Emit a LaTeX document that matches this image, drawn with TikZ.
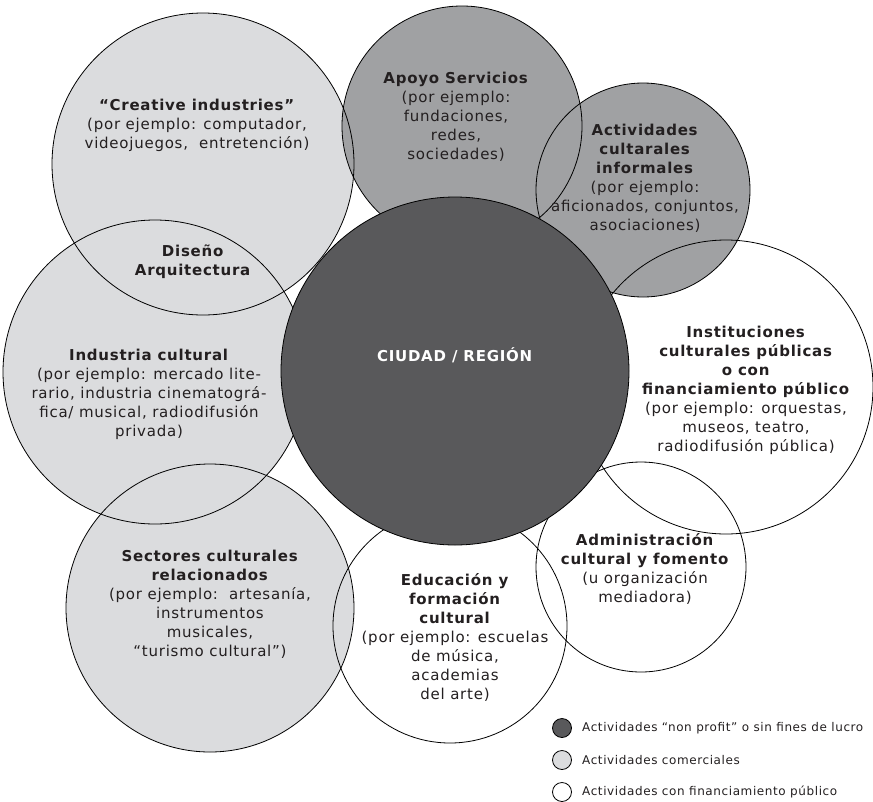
\documentclass[tikz,border=0pt]{standalone}
\usepackage{fontspec}
\setmainfont{DejaVu Sans}[LetterSpace=5]
\begin{document}
\definecolor{lightfill}{HTML}{DBDCDE}
\definecolor{midfill}{HTML}{A0A1A3}
\definecolor{darkfill}{HTML}{59595B}
\definecolor{ink}{HTML}{231F20}
\tikzset{
  rim/.style={draw=black, line width=0.8pt},
  label/.style={align=center, text=ink, font=\fontsize{15}{19}\selectfont, inner sep=0pt},
  legendtext/.style={anchor=west, text=ink, font=\fontsize{12}{14}\selectfont, inner sep=0pt},
}
\begin{tikzpicture}[x=1pt,y=-1pt]
\useasboundingbox (0,0) rectangle (873,801);

% fills of the sector circles
\fill[lightfill] (203,164) circle[radius=151];   % creative industries
\fill[midfill]   (462,126) circle[radius=120];   % apoyo servicios
\fill[midfill]   (643,190) circle[radius=107];   % actividades informales
\fill[lightfill] (155,372) circle[radius=152];   % industria cultural
\fill[lightfill] (210,608) circle[radius=144];   % sectores relacionados

% outlines, all drawn above the fills
\draw[rim] (203,164) circle[radius=151];
\draw[rim] (462,126) circle[radius=120];
\draw[rim] (643,190) circle[radius=107];
\draw[rim] (155,372) circle[radius=152];
\draw[rim] (210,608) circle[radius=144];
\draw[rim] (726,387) circle[radius=147];   % instituciones
\draw[rim] (450,626) circle[radius=117];   % educacion
\draw[rim] (641,567) circle[radius=105];   % administracion

% the city / region in the middle
\filldraw[fill=darkfill, draw=black, line width=0.8pt] (455,371) circle[radius=174];

% texts
\node[label] (creative) at (197,125) {\textbf{“Creative industries”}\\(por ejemplo: computador,\\videojuegos,\ \ entretención)};
\node[label] (diseno) at (193,262) {\textbf{Diseño}\\\textbf{Arquitectura}};
\node[label] (apoyo) at (456,117) {\textbf{Apoyo Servicios}\\(por ejemplo:\\fundaciones,\\redes,\\sociedades)};
\node[label] (informales) at (645,178) {\textbf{Actividades}\\\textbf{cultarales}\\\textbf{informales}\\(por ejemplo:\\aficionados, conjuntos,\\asociaciones)};
\node[label] (industria) at (149,394) {\textbf{Industria cultural}\\(por ejemplo: mercado lite-\\rario, industria cinematográ-\\fica/ musical, radiodifusión\\privada)};
\node[label, text=white] (ciudad) at (455,355) {\textbf{CIUDAD / REGIÓN}};
\node[label] (instituciones) at (746,390) {\textbf{Instituciones}\\\textbf{culturales públicas}\\\textbf{o con}\\\textbf{financiamiento público}\\(por ejemplo: orquestas,\\museos, teatro,\\radiodifusión pública)};
\node[label] (sectores) at (210,604) {\textbf{Sectores culturales}\\\textbf{relacionados}\\(por ejemplo:\ \ artesanía,\\instrumentos\\musicales,\\“turismo cultural”)};
\node[label] (educacion) at (455,637) {\textbf{Educación y}\\\textbf{formación}\\\textbf{cultural}\\(por ejemplo: escuelas\\de música,\\academias\\del arte)};
\node[label] (administracion) at (645,569) {\textbf{Administración}\\\textbf{cultural y fomento}\\(u organización\\mediadora)};

% legend
\filldraw[fill=darkfill, draw=black, line width=0.8pt] (562,728) circle[radius=9.5];
\filldraw[fill=lightfill, draw=black, line width=0.8pt] (562,760) circle[radius=9.5];
\draw[rim] (562,792) circle[radius=9.5];
\node[legendtext] (leg1) at (582,728) {Actividades “non profit” o sin fines de lucro};
\node[legendtext] (leg2) at (582,760) {Actividades comerciales};
\node[legendtext] (leg3) at (582,792) {Actividades con financiamiento público};
\end{tikzpicture}
\end{document}
